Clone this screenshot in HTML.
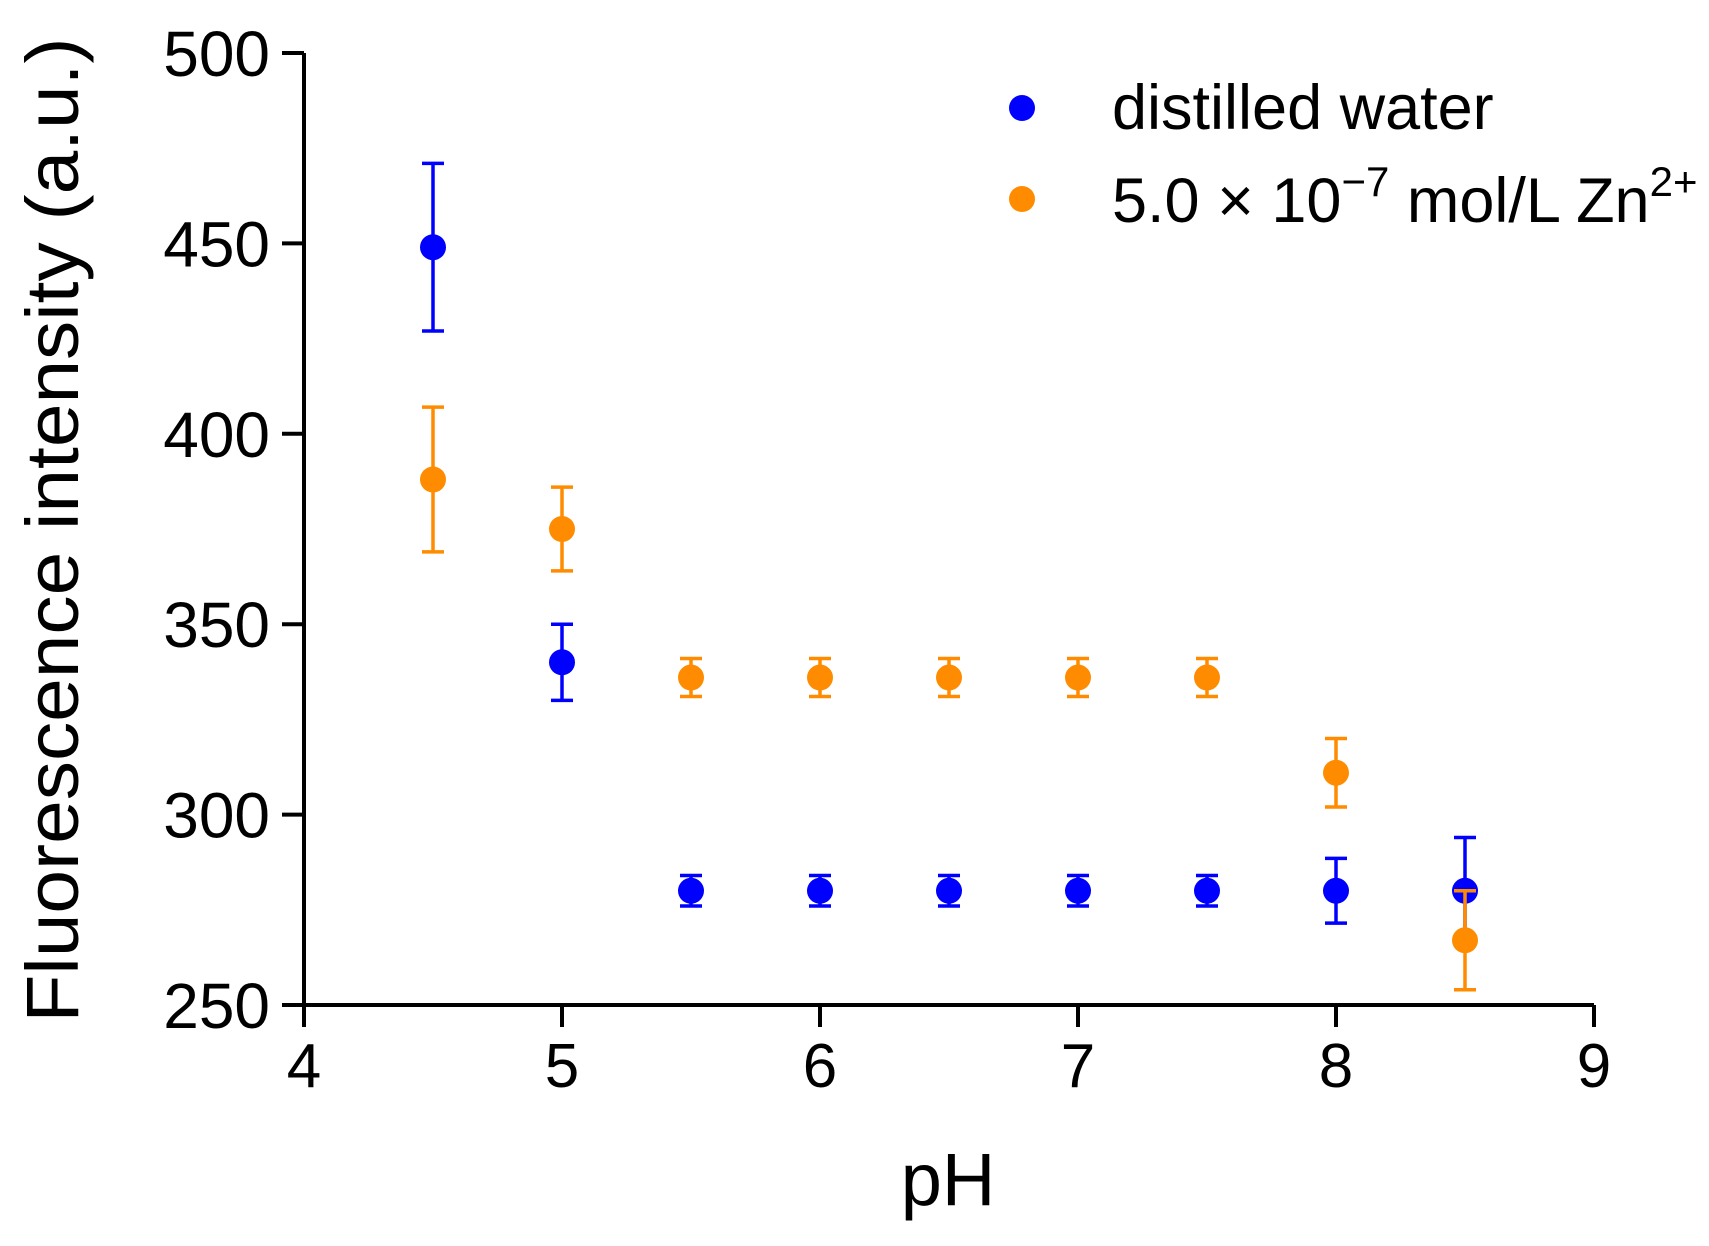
<!DOCTYPE html>
<html><head><meta charset="utf-8"><style>
html,body{margin:0;padding:0;background:#fff;}
svg{display:block;font-family:"Liberation Sans",Arial,sans-serif;}
</style></head><body>
<svg id="chart" width="1709" height="1246" viewBox="0 0 1709 1246" xmlns="http://www.w3.org/2000/svg">
<g id="axes"></g>
<g id="marks"></g>
<text transform="translate(78,530) rotate(-90)" text-anchor="middle" font-size="74" textLength="985" lengthAdjust="spacingAndGlyphs">Fluorescence intensity (a.u.)</text>
<text x="948" y="1205" text-anchor="middle" font-size="74">pH</text>
<g>
<circle cx="1022" cy="108" r="13" fill="#0000ff"/>
<text x="1112" y="129" font-size="63">distilled water</text>
<circle cx="1022" cy="199" r="13" fill="#ff8c00"/>
<text x="1112" y="222" font-size="63">5.0 × 10<tspan dy="-26" font-size="42">−7</tspan><tspan dy="26"> mol/L Zn</tspan><tspan dy="-26" font-size="42">2+</tspan></text>
</g>
</svg>
<script>
const phValues = [4.5, 5, 5.5, 6, 6.5, 7, 7.5, 8, 8.5];
const waterMean = [449, 340, 280, 280, 280, 280, 280, 280, 280];
const waterErr = [22, 10, 4, 4, 4, 4, 4, 8.5, 14];
const znMean = [388, 375, 336, 336, 336, 336, 336, 311, 267];
const znErr = [19, 11, 5, 5, 5, 5, 5, 9, 13];
const xTicks = [4, 5, 6, 7, 8, 9];
const yTicks = [250, 300, 350, 400, 450, 500];

const NS = "http://www.w3.org/2000/svg";
const X0 = 304, X1 = 1594, Y0 = 1005, Y1 = 53;
function xs(v){ return X0 + (v - 4) / 5 * (X1 - X0); }
function ys(v){ return Y0 - (v - 250) / 250 * (Y0 - Y1); }
function mk(tag, attrs, parent){
  const e = document.createElementNS(NS, tag);
  for (const k in attrs) e.setAttribute(k, attrs[k]);
  parent.appendChild(e);
  return e;
}
const axes = document.getElementById('axes');
let l = mk('path', {d:`M${X0} ${Y1}V${Y0}H${X1}`, fill:'none', stroke:'#000', 'stroke-width':4}, axes);


xTicks.forEach(t => {
  const x = xs(t);
  const tk = mk('line', {x1:x, x2:x, y1:Y0, y2:Y0+22, stroke:'#000', 'stroke-width':4}, axes);
  
  
  const tx = mk('text', {x:x, y:1087, 'text-anchor':'middle', 'font-size':62}, axes);
  tx.textContent = t;
  
  
});
yTicks.forEach(t => {
  const y = ys(t);
  const tk = mk('line', {x1:X0-22, x2:X0, y1:y, y2:y, stroke:'#000', 'stroke-width':4}, axes);
  
  
  const tx = mk('text', {x:270, y:y+23, 'text-anchor':'end', 'font-size':64}, axes);
  tx.textContent = t;
  
  
});
const marks = document.getElementById('marks');
function series(means, errs, color, name){
  const g = mk('g', {}, marks);
  
  
  phValues.forEach((p, i) => {
    const x = xs(p), yt = ys(means[i] + errs[i]), yb = ys(means[i] - errs[i]);
    const eb = mk('path', {d:`M${x} ${yt}V${yb}M${x-11} ${yt}H${x+11}M${x-11} ${yb}H${x+11}`, stroke:color, 'stroke-width':3.5, fill:'none'}, g);
    
    
    const c = mk('circle', {cx:x, cy:ys(means[i]), r:13, fill:color}, g);
    
    
  });
}
series(waterMean, waterErr, '#0000ff', 'distilled-water');
series(znMean, znErr, '#ff8c00', 'zn');
</script>
</body></html>
